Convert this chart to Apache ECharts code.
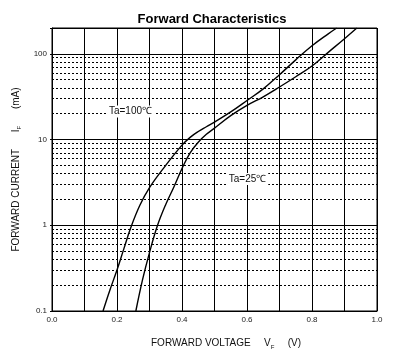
<!DOCTYPE html>
<html>
<head>
<meta charset="utf-8">
<script src="https://cdn.jsdelivr.net/npm/echarts@6/dist/echarts.min.js"></script>
<style>html,body{margin:0;padding:0;background:#fff}#c{width:405px;height:357px}</style>
</head>
<body>
<div id="c"></div>
<script>
// Forward voltage (V) vs forward current (mA)
const ta100V = [0.157, 0.178, 0.2, 0.221, 0.242, 0.27, 0.3, 0.35, 0.4, 0.425, 0.45, 0.475, 0.5, 0.55, 0.6, 0.65, 0.7, 0.75, 0.8, 0.85, 0.876];
const ta100I = [0.1, 0.175, 0.3, 0.53, 0.93, 1.7, 2.75, 5.0, 8.6, 10.6, 12.4, 14.1, 16.0, 21.0, 28.5, 39, 57, 85, 124, 171, 200];
const ta25V = [0.258, 0.279, 0.3, 0.324, 0.35, 0.375, 0.4, 0.425, 0.45, 0.475, 0.5, 0.55, 0.6, 0.65, 0.7, 0.75, 0.8, 0.85, 0.9, 0.938];
const ta25I = [0.1, 0.235, 0.48, 0.98, 1.75, 2.8, 4.6, 7.0, 9.3, 11.5, 13.6, 19, 25, 31.5, 41, 54, 72, 104, 150, 200];
const xTicks = [0.0, 0.2, 0.4, 0.6, 0.8, 1.0];
const yDecades = [0.1, 1, 10, 100];
const yMinor = [0.2, 0.3, 0.4, 0.5, 0.6, 0.7, 0.8, 0.9, 2, 3, 4, 5, 6, 7, 8, 9, 20, 30, 40, 50, 60, 70, 80, 90];
const labels = [
  { text: 'Ta=100\u2103', v: 0.2415, i: 21.2 },
  { text: 'Ta=25\u2103', v: 0.6015, i: 3.47 }
];

const chart = echarts.init(document.getElementById('c'), null, { renderer: 'canvas' });
const pair = (vs, is) => vs.map((v, k) => [v, is[k]]);
const fam = 'Liberation Sans, Arial, sans-serif';

chart.setOption({
  animation: false,
  backgroundColor: '#fff',
  title: {
    text: 'Forward Characteristics',
    left: 207, top: 8, textAlign: 'center',
    textStyle: { fontFamily: fam, fontSize: 13, fontWeight: 'bold', color: '#000' }
  },
  grid: { left: 52, right: 28, top: 28, bottom: 46, show: true, borderColor: '#000', borderWidth: 1, backgroundColor: 'transparent' },
  xAxis: {
    type: 'value', min: 0, max: 1, interval: 0.1,
    axisLine: { show: true, lineStyle: { color: '#000', width: 1 } },
    axisTick: { show: false },
    axisLabel: {
      margin: 5, fontFamily: fam, fontSize: 8, color: '#222',
      formatter: v => xTicks.some(t => Math.abs(t - v) < 1e-6) ? v.toFixed(1) : ''
    },
    splitLine: { show: true, lineStyle: { color: '#000', width: 1, type: 'solid' } },
    name: '{a|FORWARD VOLTAGE}    {a|V}{s|F}    {a|(V)}',
    nameLocation: 'middle', nameGap: 26,
    nameTextStyle: {
      padding: [0, 0, 0, 23],
      rich: {
        a: { fontFamily: fam, fontSize: 10, color: '#111' },
        s: { fontFamily: fam, fontSize: 6, color: '#111', padding: [7, 0, 0, 0] }
      }
    }
  },
  yAxis: {
    type: 'log', logBase: 10, min: 0.1, max: 200,
    axisLine: { show: true, lineStyle: { color: '#000', width: 1 } },
    axisTick: { show: true, length: 2, lineStyle: { color: '#000' } },
    axisLabel: {
      margin: 5, fontFamily: fam, fontSize: 8, color: '#222',
      formatter: v => {
        const d = yDecades.find(t => Math.abs(t - v) / t < 1e-6);
        return d === undefined ? '' : String(d);
      }
    },
    splitLine: { show: true, lineStyle: { color: '#000', width: 1, type: 'solid' } },
    name: '{a|FORWARD CURRENT}     {a|I}{s|F}     {a|(mA)}',
    nameLocation: 'middle', nameGap: 28, nameRotate: 90,
    nameTextStyle: {
      rich: {
        a: { fontFamily: fam, fontSize: 10, color: '#111' },
        s: { fontFamily: fam, fontSize: 6, color: '#111', padding: [7, 0, 0, 0] }
      }
    }
  },
  series: [
    {
      name: 'Ta=100', type: 'line', data: pair(ta100V, ta100I), smooth: 0.4,
      symbol: 'none', lineStyle: { color: '#000', width: 1.4 }, z: 5,
      markLine: {
        silent: true, symbol: ['none', 'none'], animation: false,
        label: { show: false },
        lineStyle: { color: '#000', width: 1, type: [2, 2] },
        data: yMinor.map(v => ({ yAxis: v }))
      },
      markPoint: {
        silent: true, symbol: 'rect', symbolSize: 1, itemStyle: { color: 'rgba(0,0,0,0)' },
        label: {
          show: true, position: 'inside', fontFamily: fam, fontSize: 10, color: '#111',
          backgroundColor: '#fff', padding: [1, 2],
          formatter: p => p.name
        },
        data: labels.map(l => ({ name: l.text, coord: [l.v, l.i] }))
      }
    },
    {
      name: 'Ta=25', type: 'line', data: pair(ta25V, ta25I), smooth: 0.4,
      symbol: 'none', lineStyle: { color: '#000', width: 1.4 }, z: 5
    }
  ]
});
</script>
</body>
</html>
